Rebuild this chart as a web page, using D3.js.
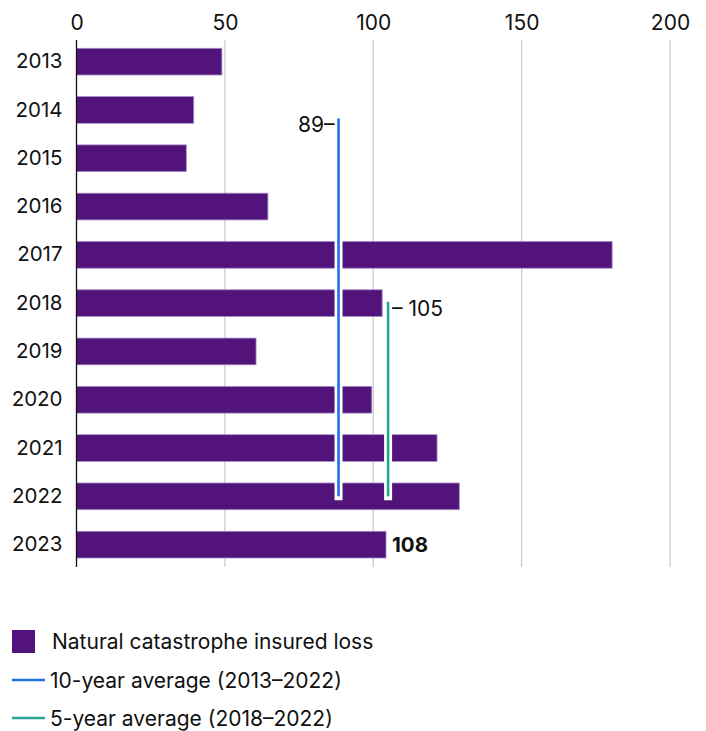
<!DOCTYPE html>
<html>
<head>
<meta charset="utf-8">
<script src="https://cdn.jsdelivr.net/npm/d3@7"></script>
<style>
    body { margin: 0; background: #fff; }
    svg { font-family: Inter, "Noto Sans", sans-serif; }
    .tick text { fill: #111; }
</style>
</head>
<body>
<svg class="chart"></svg>
<script>
// values as drawn in the picture (US$ bn)
var years = ["2013", "2014", "2015", "2016", "2017", "2018", "2019", "2020", "2021", "2022", "2023"];
var losses = [49, 39.5, 37, 64.5, 180.5, 103, 60.5, 99.5, 121.5, 129, 104.3];
var xTicks = [0, 50, 100, 150, 200];
var averages = [
    {name: "10-year average (2013\u20132022)", value: 88.3, label: "89", from: "2014", to: "2022", color: "#1f6fe5"},
    {name: "5-year average (2018\u20132022)", value: 105, label: "105", from: "2018", to: "2022", color: "#27a398"}
];
var lastLabel = "108";
var barColor = "#52137a";

var outerSize = {width: 706, height: 731};
var margin = {top: 40, left: 76.5, right: 36};
var innerSize = {width: outerSize.width - margin.left - margin.right, height: 527};

var svg = d3.select(".chart")
        .attr("width", outerSize.width)
        .attr("height", outerSize.height);
var chart = svg.append("g")
        .attr("transform", "translate(" + margin.left + "," + margin.top + ")");

var xRange = d3.scaleLinear()
        .domain([0, 200])
        .range([0, 593.5]);
var yRange = d3.scaleBand()
        .domain(years)
        .range([-2.5, 528.8])
        .paddingInner(0.447)
        .paddingOuter(0.2235);

// grid
chart.append("g")
        .selectAll("line")
        .data(xTicks.slice(1))
        .enter().append("line")
        .attr("x1", function (d) { return xRange(d); })
        .attr("x2", function (d) { return xRange(d); })
        .attr("y1", 0)
        .attr("y2", innerSize.height)
        .attr("stroke", "#c8c8c8")
        .attr("stroke-width", 1.2);

var xAxis = chart.append("g")
        .call(d3.axisTop(xRange).tickValues(xTicks).tickSize(0).tickPadding(10));
xAxis.select(".domain").remove();
xAxis.selectAll("text").attr("font-size", 21).attr("font-family", "Inter, sans-serif");

var yAxis = chart.append("g")
        .call(d3.axisLeft(yRange).tickSize(0).tickPadding(14));
yAxis.select(".domain").remove();
yAxis.selectAll("text").attr("font-size", 20.5).attr("font-family", "Inter, sans-serif");

chart.selectAll(".bar")
        .data(years)
        .enter().append("rect")
        .attr("class", "bar")
        .attr("x", 0)
        .attr("y", function (d) { return yRange(d); })
        .attr("width", function (d, i) { return xRange(losses[i]); })
        .attr("height", yRange.bandwidth())
        .attr("fill", barColor)
        .attr("stroke", "#a58cc6")
        .attr("stroke-width", 0.8);

chart.append("line")
        .attr("x1", 0).attr("x2", 0)
        .attr("y1", 0).attr("y2", innerSize.height)
        .attr("stroke", "#111")
        .attr("stroke-width", 1.3);

chart.append("text")
        .attr("x", xRange(losses[losses.length - 1]) + 6)
        .attr("y", yRange(years[years.length - 1]) + yRange.bandwidth() / 2)
        .attr("dy", "0.36em")
        .attr("font-size", 20.5)
        .attr("font-weight", 700)
        .attr("fill", "#111")
        .text(lastLabel);

// average lines
averages.forEach(function (avg, i) {
    var x = xRange(avg.value);
    var y1 = i === 0 ? yRange(avg.from) + 22 : yRange(avg.from) + 12;
    var y2 = yRange(avg.to) + yRange.bandwidth() / 2;
    chart.append("path")
            .attr("d", "M" + x + "," + y1 + "V" + y2)
            .attr("stroke", "#fff")
            .attr("stroke-width", 8)
            .attr("stroke-linecap", "square")
            .attr("fill", "none");
    chart.append("path")
            .attr("d", "M" + x + "," + y1 + "V" + y2)
            .attr("stroke", avg.color)
            .attr("stroke-width", 2.6)
            .attr("fill", "none");
    if (i === 0) {
        chart.append("text")
                .attr("x", x - 4)
                .attr("y", y1 + 6)
                .attr("dy", "0.36em")
                .attr("text-anchor", "end")
                .attr("font-size", 21)
                .attr("fill", "#111")
                .text(avg.label + "\u2013");
    } else {
        chart.append("text")
                .attr("x", x + 4)
                .attr("y", y1 + 7)
                .attr("dy", "0.36em")
                .attr("font-size", 21)
                .attr("fill", "#111")
                .text("\u2013 " + avg.label);
    }
});

// legend
var legend = svg.append("g").attr("transform", "translate(12,641)");
legend.append("rect")
        .attr("x", 0).attr("y", -11)
        .attr("width", 23).attr("height", 23)
        .attr("fill", barColor);
legend.append("text")
        .attr("x", 40).attr("y", 0)
        .attr("dy", "0.36em")
        .attr("font-size", 21)
        .attr("fill", "#111")
        .text("Natural catastrophe insured loss");
averages.forEach(function (avg, i) {
    var y = 39 + i * 38;
    legend.append("line")
            .attr("x1", 0).attr("x2", 33)
            .attr("y1", y).attr("y2", y)
            .attr("stroke", avg.color)
            .attr("stroke-width", 2.6);
    legend.append("text")
            .attr("x", 38).attr("y", y)
            .attr("dy", "0.36em")
            .attr("font-size", 21)
            .attr("fill", "#111")
            .text(avg.name);
});
</script>
</body>
</html>
